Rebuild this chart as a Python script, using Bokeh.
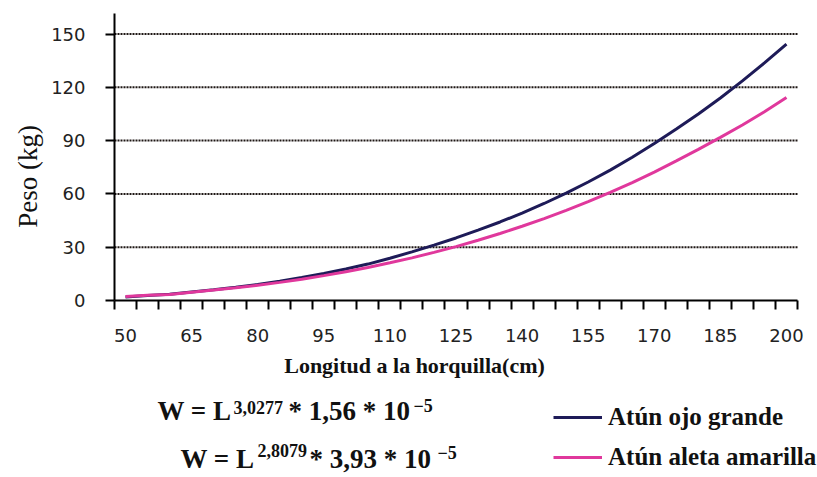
from math import pi
from bokeh.plotting import figure
from bokeh.models import (Range1d, FixedTicker, Label, Legend, LegendItem)
from bokeh.embed import file_html
from bokeh.resources import INLINE

# ---- data ----
longitud = [50, 55, 60, 65, 70, 75, 80, 85, 90, 95, 100, 105, 110, 115, 120,
            125, 130, 135, 140, 145, 150, 155, 160, 165, 170, 175, 180, 185,
            190, 195, 200]
ojo_grande = [2.0, 2.8, 3.5, 4.8, 6.0, 7.4, 9.0, 10.8, 12.9, 15.2, 17.7, 20.5,
              23.8, 27.4, 31.2, 35.2, 39.6, 44.2, 49.2, 54.6, 60.4, 66.7,
              73.4, 80.6, 88.4, 96.5, 105.0, 114.0, 123.6, 133.7, 144.3]
aleta_amarilla = [2.2, 2.9, 3.4, 4.7, 5.9, 7.2, 8.6, 10.2, 12.0, 14.0, 16.2,
                  18.6, 21.2, 24.0, 27.1, 30.3, 33.9, 37.7, 41.8, 46.1, 50.7,
                  55.6, 60.8, 66.4, 72.3, 78.6, 85.1, 91.8, 98.8, 106.2, 114.2]
x_tick_values = [50, 65, 80, 95, 110, 125, 140, 155, 170, 185, 200]
y_tick_values = [0, 30, 60, 90, 120, 150]
y_axis_top = 161.3

# ---- layout (pixels) ----
W, H = 817, 477
AX_LEFT, AX_RIGHT = 114, 797      # x-axis pixel extent
AX_ZERO, AX_150 = 300, 33.5        # pixel rows of y=0 and y=150

x_lo = longitud[0] - 2.5
x_hi = longitud[-1] + 2.5
x_minor = [x_lo + 5 * i for i in range(len(longitud) + 1)]
ppx = (AX_RIGHT - AX_LEFT) / (x_hi - x_lo)
ppy = (AX_ZERO - AX_150) / 150.0
x_start = x_lo - AX_LEFT / ppx
x_end = x_hi + (W - AX_RIGHT) / ppx
y_start = -(H - AX_ZERO) / ppy
y_end = AX_ZERO / ppy

NAVY = "#1e1b58"
PINK = "#e0389c"
GRID = "#1e1714"
SERIF = "Liberation Serif"
SANS = "DejaVu Sans"
INK = "#111111"

p = figure(width=W, height=H, output_backend="svg", toolbar_location=None,
           x_range=Range1d(x_start, x_end), y_range=Range1d(y_start, y_end),
           min_border_left=0, min_border_right=0, min_border_top=0,
           min_border_bottom=0)
p.outline_line_color = None
p.background_fill_color = "white"
p.border_fill_color = "white"
p.xgrid.grid_line_color = None
p.ygrid.grid_line_color = None

# axes drawn at fixed positions inside the (full-canvas) frame
xa = p.xaxis[0]
xa.fixed_location = 0
xa.bounds = (x_lo, x_hi)
xa.ticker = FixedTicker(ticks=x_tick_values, minor_ticks=x_minor)
xa.major_tick_out = 0
xa.major_tick_in = 0
xa.minor_tick_out = 9
xa.minor_tick_in = 0
xa.minor_tick_line_color = "black"
xa.minor_tick_line_width = 2
xa.axis_line_width = 2
xa.axis_line_color = "black"
xa.major_label_standoff = 19
xa.major_label_text_font = SANS
xa.major_label_text_font_size = "18px"
xa.major_label_text_color = "#222222"

ya = p.yaxis[0]
ya.fixed_location = x_lo
ya.bounds = (0, y_axis_top)
ya.ticker = FixedTicker(ticks=y_tick_values, minor_ticks=[])
ya.major_tick_out = 9
ya.major_tick_in = 0
ya.major_tick_line_width = 2
ya.axis_line_width = 2
ya.axis_line_color = "black"
ya.major_label_standoff = 20
ya.major_label_text_font = SANS
ya.major_label_text_font_size = "18px"
ya.major_label_text_color = "#222222"

# dotted horizontal grid lines across the axis extent
gy = y_tick_values[1:]
p.segment(x0=[x_lo] * len(gy), y0=gy, x1=[x_hi] * len(gy), y1=gy,
          line_color=GRID, line_width=2, line_dash="2 1", level="underlay")

r1 = p.line(longitud, ojo_grande, line_color=NAVY, line_width=3)
r2 = p.line(longitud, aleta_amarilla, line_color=PINK, line_width=3)


def lab(x, y, t, size, bold=True, align="left", baseline="alphabetic",
        angle=0.0, shift=0.0):
    # x, y: pixels from the left / top of the picture
    p.add_layout(Label(x=x, y=H - y + shift, x_units="screen",
                       y_units="screen", text=t, angle=angle,
                       text_align=align, text_baseline=baseline,
                       text_font=SERIF,
                       text_font_style="bold" if bold else "normal",
                       text_font_size=size, text_color=INK))


# axis titles
lab(27, 176, "Peso (kg)", "27px", bold=False, align="center",
    baseline="middle", angle=pi / 2)
lab(414, 372, "Longitud a la horquilla(cm)", "22px", align="center", shift=7)

# equations (big parts 27px, exponents 18px)
lab(157, 418, "W = L", "27px", shift=8)
lab(233, 412, "3,0277", "18px", shift=5)
lab(288, 418, "* 1,56 * 10", "27px", shift=8)
lab(413, 410, "\u22125", "18px", shift=5)

lab(180, 466, "W = L", "27px", shift=8)
lab(257, 455, "2,8079", "18px", shift=5)
lab(309, 466, "* 3,93 * 10", "27px", shift=8)
lab(437, 457, "\u22125", "18px", shift=5)

legend = Legend(items=[LegendItem(label="Atún ojo grande", renderers=[r1]),
                       LegendItem(label="Atún aleta amarilla", renderers=[r2])],
                location=(553, H - 477), orientation="vertical",
                glyph_width=49, glyph_height=40, label_height=40,
                label_standoff=6, spacing=0, padding=0, margin=0,
                border_line_color=None, background_fill_alpha=0,
                label_text_font=SERIF, label_text_font_style="bold",
                label_text_font_size="25px", label_text_color=INK)
p.add_layout(legend)

open("out.html", "w").write(file_html(p, INLINE))
